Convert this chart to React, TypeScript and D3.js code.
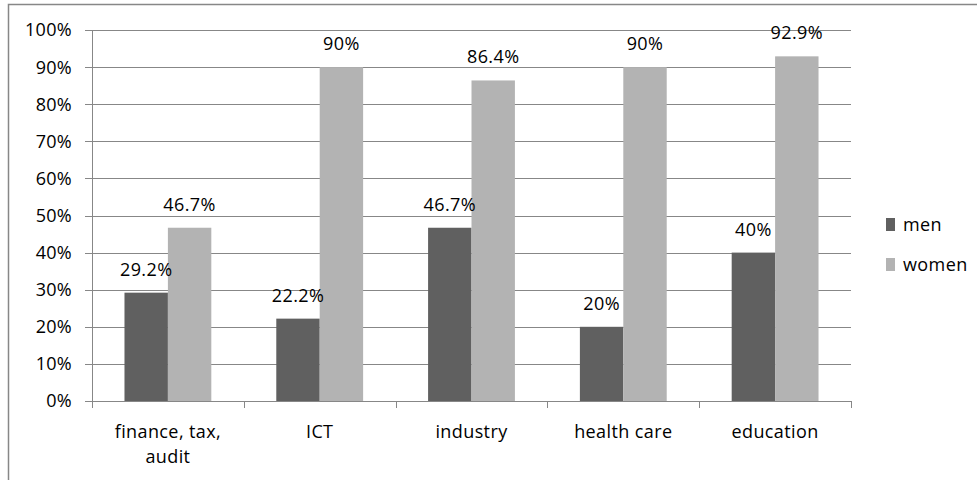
import React from "react";
import * as d3 from "d3";

// Share of respondents by sector, split by gender (percent)
const categories: string[][] = [
  ["finance, tax,", "audit"],
  ["ICT"],
  ["industry"],
  ["health care"],
  ["education"],
];
const seriesNames = ["men", "women"];
const menValues = [29.2, 22.2, 46.7, 20, 40];
const womenValues = [46.7, 90, 86.4, 90, 92.9];
const yTicks = [0, 10, 20, 30, 40, 50, 60, 70, 80, 90, 100];

const W = 977;
const H = 480;
const plot = { left: 92, right: 851, top: 30, bottom: 401 };
const colors: Record<string, string> = { men: "#606060", women: "#b3b3b3" };
const gridColor = "#878787";
const textColor = "#000";
const font = "'Open Sans', 'Noto Sans', sans-serif";
const fontSize = 18;

export default function App() {
  const keys = categories.map((c) => c.join(" "));
  const x0 = d3
    .scaleBand<string>()
    .domain(keys)
    .range([plot.left, plot.right])
    .paddingInner(0.428)
    .paddingOuter(0.214);
  const x1 = d3.scaleBand<string>().domain(seriesNames).range([0, x0.bandwidth()]);
  const y = d3.scaleLinear().domain([0, 100]).range([plot.bottom, plot.top]);
  const step = x0.step();
  const boundaries = d3.range(keys.length + 1).map((i) => plot.left + i * step);
  const values: Record<string, number[]> = { men: menValues, women: womenValues };

  return (
    <svg
      width={W}
      height={H}
      style={{ position: "absolute", left: 0, top: 0, background: "#fff" }}
      fontFamily={font}
    >
      <rect x={8.5} y={4.5} width={1200} height={1200} fill="#fff" stroke={gridColor} strokeWidth={1.5} />

      {/* horizontal gridlines */}
      {yTicks.slice(1).map((t) => (
        <line
          key={"g" + t}
          x1={plot.left}
          x2={plot.right}
          y1={Math.round(y(t)) + 0.5}
          y2={Math.round(y(t)) + 0.5}
          stroke={gridColor}
          strokeWidth={1}
        />
      ))}

      {/* bars */}
      {seriesNames.map((s) =>
        keys.map((k, i) => {
          const v = values[s][i];
          const bx = (x0(k) ?? 0) + (x1(s) ?? 0);
          return (
            <rect
              key={s + k}
              x={bx}
              y={y(v)}
              width={x1.bandwidth()}
              height={plot.bottom - y(v)}
              fill={colors[s]}
            />
          );
        })
      )}

      {/* data labels */}
      {seriesNames.map((s) =>
        keys.map((k, i) => {
          const v = values[s][i];
          const cx = (x0(k) ?? 0) + (x1(s) ?? 0) + x1.bandwidth() / 2;
          return (
            <text
              key={"l" + s + k}
              x={cx}
              y={y(v) - 17}
              textAnchor="middle"
              fontSize={fontSize}
              letterSpacing={0.4}
              fill={textColor}
            >
              {`${v}%`}
            </text>
          );
        })
      )}

      {/* y axis */}
      <line x1={plot.left + 0.5} x2={plot.left + 0.5} y1={plot.top} y2={plot.bottom + 7} stroke={gridColor} />
      {yTicks.map((t) => (
        <g key={"y" + t}>
          <line
            x1={plot.left - 7}
            x2={plot.left}
            y1={Math.round(y(t)) + 0.5}
            y2={Math.round(y(t)) + 0.5}
            stroke={gridColor}
          />
          <text x={72} y={y(t)} dy="0.36em" textAnchor="end" fontSize={fontSize} letterSpacing={0.3} fill={textColor}>
            {`${t}%`}
          </text>
        </g>
      ))}

      {/* x axis */}
      <line x1={plot.left} x2={plot.right} y1={plot.bottom + 0.5} y2={plot.bottom + 0.5} stroke={gridColor} />
      {boundaries.map((b, i) => (
        <line
          key={"t" + i}
          x1={Math.round(b) + 0.5}
          x2={Math.round(b) + 0.5}
          y1={plot.bottom}
          y2={plot.bottom + 7}
          stroke={gridColor}
        />
      ))}
      {categories.map((lines, i) => (
        <text
          key={"c" + i}
          x={(x0(keys[i]) ?? 0) + x0.bandwidth() / 2}
          y={438}
          textAnchor="middle"
          fontSize={fontSize}
          letterSpacing={0.4}
          fill={textColor}
        >
          {lines.map((ln, j) => (
            <tspan key={j} x={(x0(keys[i]) ?? 0) + x0.bandwidth() / 2} dy={j === 0 ? 0 : 25}>
              {ln}
            </tspan>
          ))}
        </text>
      ))}

      {/* legend */}
      {seriesNames.map((s, i) => (
        <g key={"lg" + s} transform={`translate(886, ${218 + i * 40})`}>
          <rect x={0} y={0} width={9} height={13} fill={colors[s]} />
          <text x={17} y={12.5} fontSize={fontSize} letterSpacing={0.4} fill={textColor}>
            {s}
          </text>
        </g>
      ))}
    </svg>
  );
}
